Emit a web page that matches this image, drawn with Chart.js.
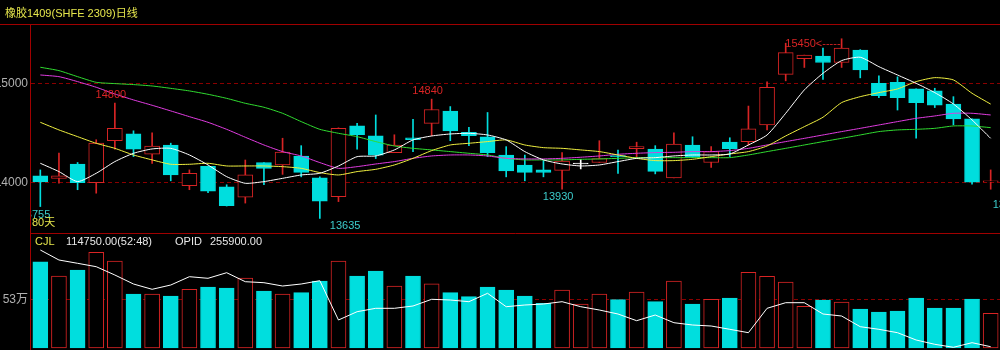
<!DOCTYPE html>
<html>
<head>
<meta charset="utf-8">
<script src="https://cdn.jsdelivr.net/npm/chart.js"></script>
<style>
  html, body { margin: 0; padding: 0; background: #000; }
  #kline { display: block; }
</style>
</head>
<body>
<canvas id="kline" width="1000" height="350"></canvas>
<script>
// daily bars
const opens = [
  14065, 14040, 14185, 13995, 14420, 14490, 14285, 14375, 13965, 14160,
  13955, 13850, 14200, 14175, 14265, 14045, 13855, 14570, 14470, 14300,
  14450, 14595, 14720, 14505, 14460, 14275, 14175, 14125, 14120, 14185,
  14200, 14270, 14340, 14335, 14045, 14375, 14200, 14405, 14410, 14580,
  15090, 15250, 15275, 15210, 15335, 15000, 15010, 14945, 14925, 14790,
  14640, 14005
];
const highs = [
  14125, 14295, 14200, 14430, 14800, 14520, 14500, 14395, 14125, 14165,
  13975, 14225, 14200, 14445, 14370, 14055, 14550, 14595, 14680, 14480,
  14635, 14840, 14765, 14555, 14705, 14360, 14275, 14220, 14300, 14230,
  14420, 14325, 14405, 14370, 14500, 14460, 14360, 14450, 14770, 15015,
  15405, 15285, 15355, 15450, 15340, 15075, 15065, 14945, 14950, 14865,
  14640, 14125
];
const lows = [
  13755, 13990, 13925, 13890, 14335, 14260, 14190, 14015, 13925, 13895,
  13760, 13790, 13975, 14080, 14055, 13635, 13805, 14335, 14240, 14300,
  14310, 14470, 14420, 14370, 14260, 14055, 14015, 14055, 13930, 14135,
  14200, 14090, 14245, 14085, 14045, 14250, 14150, 14260, 14375, 14530,
  15025, 15160, 15040, 15160, 15055, 14855, 14730, 14445, 14755, 14580,
  13980, 13930
];
const closes = [
  14005, 14065, 13995, 14395, 14545, 14335, 14365, 14075, 14090, 13910,
  13765, 14075, 14140, 14305, 14100, 13810, 14545, 14480, 14275, 14375,
  14430, 14735, 14520, 14470, 14300, 14115, 14100, 14100, 14215, 14185,
  14240, 14260, 14360, 14110, 14385, 14250, 14310, 14340, 14540, 14960,
  15310, 15285, 15210, 15355, 15135, 14875, 14855, 14805, 14780, 14640,
  14000, 14010
];

// moving averages (white / yellow / magenta / green)
const ma5 = [
  14192, 14108, 14007, 14091, 14209, 14293, 14337, 14343, 14276, 14175,
  14057, 13990, 14007, 14040, 14074, 14091, 14165, 14259, 14266, 14327,
  14428, 14468, 14488, 14495, 14478, 14428, 14310, 14226, 14185, 14165,
  14175, 14209, 14242, 14249, 14266, 14276, 14276, 14286, 14377, 14478,
  14697, 14933, 15101, 15229, 15263, 15168, 15084, 15000, 14906, 14791,
  14630, 14444
];
const ma10 = [
  14606, 14529, 14461, 14394, 14343, 14276, 14226, 14182, 14182, 14192,
  14165, 14165, 14165, 14158, 14141, 14098, 14074, 14108, 14131, 14175,
  14242, 14320, 14377, 14394, 14411, 14428, 14377, 14350, 14343, 14327,
  14310, 14276, 14242, 14219, 14219, 14232, 14259, 14286, 14310, 14367,
  14468, 14562, 14657, 14805, 14865, 14906, 14943, 15017, 15057, 15034,
  14899, 14790
];
const ma20 = [
  15084, 15067, 15017, 14960, 14892, 14832, 14778, 14721, 14663, 14606,
  14535, 14455, 14377, 14310, 14266, 14199, 14141, 14158, 14185, 14209,
  14242, 14266, 14276, 14276, 14266, 14242, 14236, 14236, 14242, 14253,
  14266, 14283, 14293, 14300, 14303, 14310, 14310, 14320, 14343, 14377,
  14411, 14444, 14478, 14512, 14545, 14579, 14613, 14646, 14670, 14697,
  14697, 14680
];
const ma40 = [
  15162, 15128, 15067, 15010, 14997, 14987, 14973, 14949, 14923, 14889,
  14848, 14798, 14758, 14697, 14613, 14535, 14495, 14461, 14411, 14367,
  14343, 14327, 14310, 14293, 14276, 14242, 14226, 14226, 14226, 14232,
  14236, 14242, 14249, 14249, 14249, 14249, 14249, 14249, 14276, 14310,
  14343, 14377, 14411, 14444, 14478, 14512, 14529, 14535, 14545, 14569,
  14569, 14552
];

// volume (CJL) and open interest (OPID)
const volumes = [
  939000, 783000, 849000, 1041000, 947000, 588000, 588000, 566000, 638000, 664000,
  653000, 762000, 620000, 588000, 602000, 729000, 947000, 783000, 838000, 675000,
  783000, 697000, 602000, 559000, 664000, 631000, 566000, 486000, 631000, 479000,
  588000, 526000, 609000, 504000, 729000, 479000, 530000, 544000, 824000, 780000,
  718000, 453000, 522000, 501000, 424000, 392000, 402000, 544000, 435000, 435000,
  533000, 377000
];
const openInt = [
  352600, 342600, 339300, 335900, 327600, 318600, 313300, 317600, 325900, 324300,
  329900, 320900, 319900, 316600, 318600, 321900, 282600, 290900, 294300, 294300,
  296600, 303300, 302600, 300900, 309300, 295900, 297600, 298600, 300900, 295900,
  292600, 288600, 281900, 287600, 279900, 277600, 276600, 273300, 269900, 294300,
  299900, 299900, 288600, 286600, 275900, 273300, 269900, 262600, 258300, 255300,
  259900, 255900
];

const priceTicks = [15000, 14000];
const volTicks = [530000];
const days = opens.map((_, i) => String(i + 1));

const RED = "#d82424";
const CYAN = "#00dede";
const FRAME = "#a00000";
const GRID = "#8a0000";

const up = (i) => closes[i] > opens[i];
const flat = (i) => closes[i] === opens[i];
const candleCol = (i) => (flat(i) ? "#ffffff" : up(i) ? RED : CYAN);

const bodies = opens.map((o, i) => [o, closes[i]]);
const wicks = lows.map((l, i) => [l, highs[i]]);

const decor = {
  id: "decor",
  beforeDatasetsDraw(chart) {
    const { ctx, chartArea: a, scales } = chart;
    ctx.save();
    ctx.lineWidth = 1;
    ctx.strokeStyle = GRID;
    ctx.setLineDash([4, 3]);
    ctx.font = '12px "Liberation Sans", "Noto Sans CJK SC", sans-serif';
    ctx.fillStyle = "#b0b0b0";
    ctx.textAlign = "right";
    ctx.textBaseline = "middle";
    priceTicks.forEach((v) => {
      const y = Math.round(scales.y.getPixelForValue(v)) + 0.5;
      ctx.beginPath();
      ctx.moveTo(a.left, y);
      ctx.lineTo(a.right, y);
      ctx.stroke();
      ctx.fillText(String(v), a.left - 3, y);
    });
    volTicks.forEach((v) => {
      const y = Math.round(scales.yv.getPixelForValue(v)) + 0.5;
      ctx.beginPath();
      ctx.moveTo(a.left, y);
      ctx.lineTo(a.right, y);
      ctx.stroke();
      ctx.fillText(v / 10000 + "万", a.left - 3, y);
    });
    ctx.setLineDash([]);
    ctx.strokeStyle = FRAME;
    ctx.beginPath();
    ctx.moveTo(0, a.top + 0.5);
    ctx.lineTo(chart.width, a.top + 0.5);
    ctx.moveTo(a.left, 233.5);
    ctx.lineTo(a.right, 233.5);
    ctx.moveTo(a.left - 0.5, a.top);
    ctx.lineTo(a.left - 0.5, chart.height);
    ctx.stroke();
    ctx.restore();
  },
  afterDatasetsDraw(chart) {
    const { ctx, chartArea: a, scales } = chart;
    const px = (i) => scales.x.getPixelForValue(i);
    const py = (v) => scales.y.getPixelForValue(v);
    ctx.save();
    ctx.beginPath();
    ctx.rect(a.left, a.top, a.right - a.left, a.bottom - a.top);
    ctx.clip();
    ctx.font = '11px "Liberation Sans", sans-serif';
    ctx.textBaseline = "middle";

    ctx.fillStyle = RED;
    ctx.textAlign = "center";
    ctx.fillText(String(highs[4]), px(4) - 4, py(highs[4]) - 8);
    ctx.fillText(String(highs[21]), px(21) - 4, py(highs[21]) - 8);
    ctx.textAlign = "right";
    ctx.fillText(highs[43] + "<-----", px(43) - 1, py(highs[43]) + 5);

    ctx.fillStyle = "#3ccccc";
    ctx.textAlign = "right";
    ctx.fillText(String(lows[0]), px(0) + 10, py(lows[0]) + 8);
    ctx.textAlign = "left";
    ctx.fillText(String(lows[15]), px(15) + 10, py(lows[15]) + 8);
    ctx.fillText(String(lows[51]), px(51) + 2, py(lows[51]) + 16);
    ctx.textAlign = "center";
    ctx.fillText(String(lows[28]), px(28) - 4, py(lows[28]) + 8);
    ctx.restore();

    ctx.save();
    ctx.textBaseline = "middle";
    ctx.textAlign = "left";
    ctx.font = '11px "Liberation Sans", "Noto Sans CJK SC", sans-serif';
    ctx.fillStyle = "#e6e64c";
    ctx.fillText("橡胶1409(SHFE 2309)日线", 5, 14);
    ctx.fillText("80天", 32, 223);
    ctx.fillText("CJL", 35, 242);
    ctx.fillStyle = "#e8e8e8";
    ctx.fillText("114750.00(52:48)", 66, 242);
    ctx.fillText("OPID", 175, 242);
    ctx.fillText(openInt[openInt.length - 1].toFixed(2), 210, 242);
    ctx.restore();
  },
};

const lineSet = (data, color) => ({
  type: "line",
  data: data,
  yAxisID: "y",
  borderColor: color,
  borderWidth: 1,
  pointRadius: 0,
  tension: 0.2,
  order: 0,
});

new Chart("kline", {
  type: "bar",
  data: {
    labels: days,
    datasets: [
      lineSet(ma5, "#ffffff"),
      lineSet(ma10, "#f0f040"),
      lineSet(ma20, "#e03ce0"),
      lineSet(ma40, "#30dc30"),
      {
        type: "line",
        data: openInt,
        yAxisID: "yo",
        borderColor: "#ffffff",
        borderWidth: 1,
        pointRadius: 0,
        order: 0,
      },
      {
        data: bodies,
        yAxisID: "y",
        grouped: false,
        barThickness: 15,
        minBarLength: 1,
        borderWidth: 1,
        borderSkipped: false,
        backgroundColor: days.map((_, i) => (up(i) ? "#000000" : candleCol(i))),
        borderColor: days.map((_, i) => candleCol(i)),
        order: 1,
      },
      {
        data: wicks,
        yAxisID: "y",
        grouped: false,
        barThickness: 1,
        borderWidth: 0,
        backgroundColor: days.map((_, i) => candleCol(i)),
        order: 2,
      },
      {
        data: volumes,
        yAxisID: "yv",
        grouped: false,
        barThickness: 15,
        borderWidth: 1,
        borderSkipped: false,
        backgroundColor: days.map((_, i) => (closes[i] >= opens[i] ? "#000000" : CYAN)),
        borderColor: days.map((_, i) => (closes[i] >= opens[i] ? RED : CYAN)),
        order: 3,
      },
    ],
  },
  options: {
    responsive: false,
    animation: false,
    events: [],
    layout: { padding: { left: 31, top: 24, right: 0, bottom: 1 } },
    scales: {
      x: { type: "category", display: false, offset: true },
      y: { display: false, min: 12316, max: 15599 },
      yv: { display: false, min: -10900, max: 3526000 },
      yo: { display: false, min: 253600, max: 578600 },
    },
    plugins: {
      legend: { display: false },
      tooltip: { enabled: false },
    },
  },
  plugins: [decor],
});
</script>
</body>
</html>
